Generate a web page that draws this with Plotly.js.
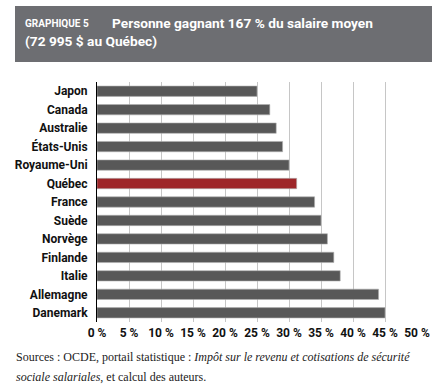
<!DOCTYPE html>
<html><head><meta charset="utf-8">
<script src="https://cdn.plot.ly/plotly-3.0.1.min.js"></script>
<style>html,body{margin:0;padding:0;background:#fff}#c{width:438px;height:391px}</style>
</head><body><div id="c"></div>
<script>
const countries = ["Japon","Canada","Australie","États-Unis","Royaume-Uni","Québec","France","Suède","Norvège","Finlande","Italie","Allemagne","Danemark"];
const values = [25, 27, 28, 29, 30, 31.2, 34, 35, 36, 37, 38, 44, 45];
const highlight = "Québec";
const xTicks = [0,5,10,15,20,25,30,35,40,45,50];

const colors = countries.map(c => c === highlight ? "#9e2629" : "#585858");

const trace = {
  type: "bar", orientation: "h",
  x: values, y: countries,
  marker: {color: colors, line: {color: "#b0b0b0", width: 0.6}},
  width: 0.56,
  hoverinfo: "x+y"
};

const layout = {
  width: 438, height: 391,
  margin: {l: 97, r: 21, t: 82, b: 69},
  paper_bgcolor: "#fff", plot_bgcolor: "#fff",
  showlegend: false,
  xaxis: {
    range: [0, 50], tickvals: xTicks, ticktext: xTicks.map(v => v + " %"),
    showgrid: true, gridcolor: "#c6c6c6", gridwidth: 1,
    zeroline: false, showline: false, ticks: "",
    tickfont: {family: "Roboto, sans-serif", size: 12, color: "#111", weight: "bold"},
    ticklabelstandoff: 2, fixedrange: true
  },
  yaxis: {
    type: "category", categoryorder: "array", categoryarray: countries,
    autorange: "reversed",
    showline: true, linecolor: "#000", linewidth: 1,
    showgrid: false, zeroline: false, ticks: "",
    tickfont: {family: "Roboto, sans-serif", size: 12, color: "#111", weight: "bold"},
    ticklabelstandoff: 6, fixedrange: true
  },
  shapes: [{
    type: "rect", xref: "paper", yref: "paper",
    x0: -82/320, x1: 335/320, y0: 1 + 20/240, y1: 1 + 76/240,
    fillcolor: "#6d6e72", line: {width: 0}, layer: "below"
  }],
  annotations: [
    {xref: "paper", yref: "paper", x: -74/320, y: 1 + 58/240, xanchor: "left", yanchor: "middle",
     showarrow: false, align: "left",
     text: "<span style='font-size:10px'>GRAPHIQUE 5</span>",
     font: {family: "Roboto, sans-serif", size: 13, color: "#fff", weight: "bold"}},
    {xref: "paper", yref: "paper", x: 13/320, y: 1 + 59/240, xanchor: "left", yanchor: "middle",
     showarrow: false, align: "left",
     text: "Personne gagnant 167 % du salaire moyen",
     font: {family: "Roboto, sans-serif", size: 13.7, color: "#fff", weight: "bold"}},
    {xref: "paper", yref: "paper", x: -74/320, y: 1 + 41/240, xanchor: "left", yanchor: "middle",
     showarrow: false, align: "left",
     text: "(72 995 $ au Québec)",
     font: {family: "Roboto, sans-serif", size: 13.7, color: "#fff", weight: "bold"}},
    {xref: "paper", yref: "paper", x: -83/320, y: -35/240, xanchor: "left", yanchor: "middle",
     showarrow: false, align: "left",
     text: "Sources : OCDE, portail statistique : <i>Impôt sur le revenu et cotisations de sécurité</i>",
     font: {family: "Liberation Serif, serif", size: 12, color: "#222"}},
    {xref: "paper", yref: "paper", x: -83/320, y: -55/240, xanchor: "left", yanchor: "middle",
     showarrow: false, align: "left",
     text: "<i>sociale salariales</i>, et calcul des auteurs.",
     font: {family: "Liberation Serif, serif", size: 12, color: "#222"}}
  ]
};

Plotly.newPlot("c", [trace], layout, {displayModeBar: false, staticPlot: true});
</script>
</body></html>
